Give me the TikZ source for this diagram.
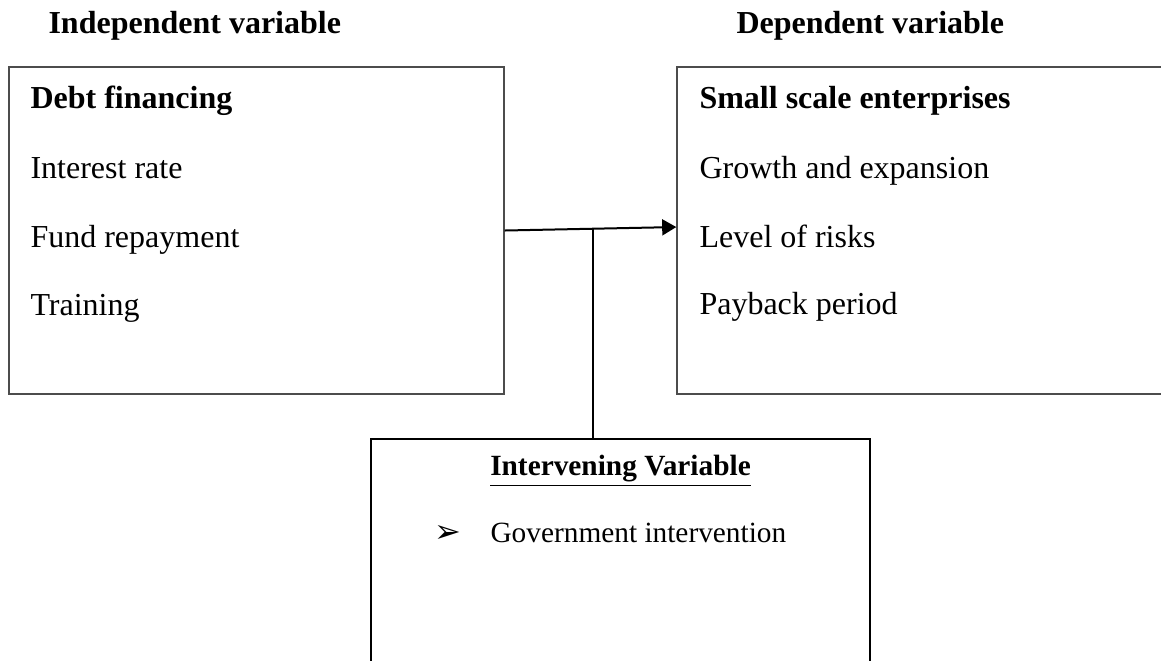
\documentclass[tikz,border=0pt]{standalone}
\usepackage{fontspec}
\setmainfont{Liberation Serif}
\newfontfamily\symbfont{DejaVu Sans}
\usetikzlibrary{arrows.meta,positioning}
\tikzset{
  varbox/.style={rectangle,draw=black!70,line width=0.55pt,inner sep=0pt,minimum width=185.6pt,minimum height=122.6pt},
  ivbox/.style={rectangle,draw,line width=0.9pt,inner sep=0pt},
  txt/.style={inner sep=0pt,anchor=base west,font=\fontsize{12}{14}\selectfont},
  hd/.style={txt,font=\fontsize{12}{14}\selectfont\bfseries},
}
\begin{document}
\begin{tikzpicture}[x=0.375pt,y=-0.375pt]
    \useasboundingbox (0,0) rectangle (1161,660);
    \node[hd] (indep) at (48,33) {Independent variable};
    \node[hd] (dep) at (736,33) {Dependent variable};

    \node[varbox] (debt) at (256.5,230.5) {};
    \node[varbox] (sse) at (924.5,230.5) {};
    \node[ivbox,minimum width=187.1pt,minimum height=90.4pt] (interv) at (620.5,559.5) {};

    \node[hd] (debthd) at (30,108) {Debt financing};
    \node[txt] (rate) at (30,178) {Interest rate};
    \node[txt] (repay) at (30,247) {Fund repayment};
    \node[txt] (train) at (30,315) {Training};

    \node[hd] (ssehd) at (699,108) {Small scale enterprises};
    \node[txt] (growth) at (699,178) {Growth and expansion};
    \node[txt] (risk) at (699,247) {Level of risks};
    \node[txt] (payback) at (699,314) {Payback period};

    % intervening box uses 11pt
    \node[hd,anchor=base,font=\fontsize{11}{13}\selectfont\bfseries] (ivhd) at (620.5,475) {\underline{Intervening Variable}};
    \node[txt,font=\fontsize{12}{14}\symbfont] (bullet) at (434,542) {➢};
    \node[txt,font=\fontsize{11}{13}\selectfont] (govt) at (490,542) {Government intervention};

    \coordinate (jn) at (593,229);
    \draw[-{Triangle[length=5.3pt,width=6pt]},line width=0.75pt] (debt.east) -- ([yshift=1.3pt]sse.west);
    \draw[line width=0.75pt] (jn) -- (jn |- interv.north);
\end{tikzpicture}
\end{document}
